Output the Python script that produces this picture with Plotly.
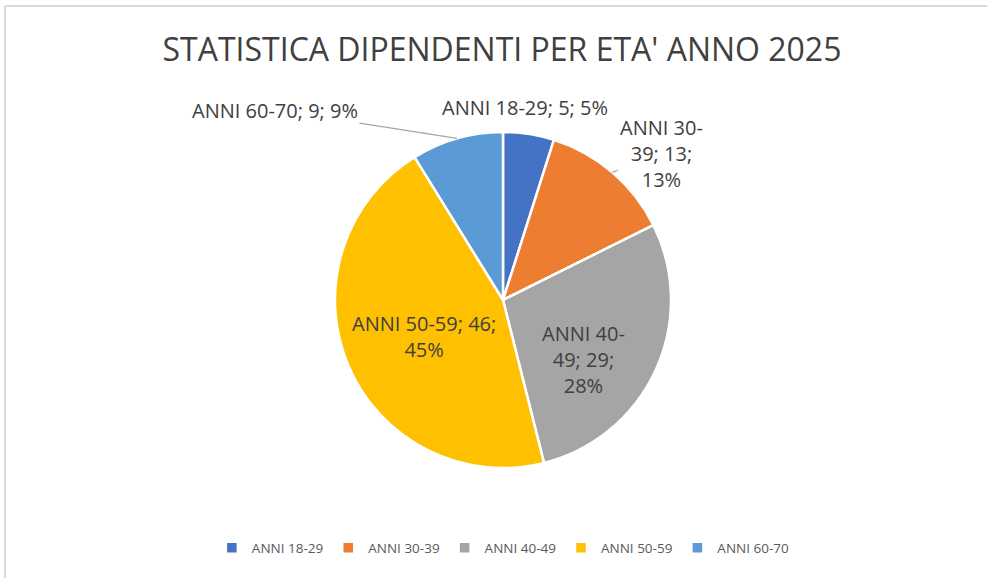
import math
import plotly.graph_objects as go

categories = ["ANNI 18-29", "ANNI 30-39", "ANNI 40-49", "ANNI 50-59", "ANNI 60-70"]
values = [5, 13, 29, 46, 9]
colors = ["#4472C4", "#ED7D31", "#A5A5A5", "#FFC000", "#5B9BD5"]

W, H = 987, 578
CX, CY, R = 503, 300, 168  # pie centre / radius in px

total = sum(values)
texts = []
for c, v in zip(categories, values):
    pct = round(v / total * 100)
    texts.append(f"{c}; {v}; {pct}%")
# wrap like the original
texts[1] = texts[1].replace("30-", "30-<br>").replace("13; ", "13;<br>")
texts[2] = texts[2].replace("40-", "40-<br>").replace("29; ", "29;<br>")
texts[3] = texts[3].replace("46; ", "46;<br>")

# label centres (px) and whether they get a leader line
label_xy = [(525, 108), (661, 154), (583, 359), (424, 336), (275, 110)]
leader = [False, True, False, False, True]

fig = go.Figure(go.Pie(
    labels=categories,
    values=values,
    textinfo="none",
    hoverinfo="label+value+percent",
    sort=False,
    direction="clockwise",
    rotation=0,
    marker=dict(colors=colors, line=dict(color="white", width=2.5)),
    domain=dict(x=[(CX - R) / W, (CX + R) / W], y=[1 - (CY + R) / H, 1 - (CY - R) / H]),
    automargin=False,
))

annotations = []
cum = 0
for i, v in enumerate(values):
    mid = (cum + v / 2) / total * 2 * math.pi
    cum += v
    lx, ly = label_xy[i]
    font = dict(family="Open Sans", size=20, color="#404040")
    if leader[i]:
        px_ = CX + R * math.sin(mid)
        py_ = CY - R * math.cos(mid)
        annotations.append(dict(
            x=px_ / W, y=1 - py_ / H, xref="paper", yref="paper",
            text=texts[i], showarrow=True, arrowhead=0, arrowwidth=1.2,
            arrowcolor="#A6A6A6", ax=lx - px_, ay=ly - py_, axref="pixel", ayref="pixel",
            font=font, align="center",
        ))
    else:
        annotations.append(dict(
            x=lx / W, y=1 - ly / H, xref="paper", yref="paper",
            text=texts[i], showarrow=False, xanchor="center", yanchor="middle",
            font=font, align="center",
        ))

fig.update_layout(
    width=W,
    height=H,
    margin=dict(l=0, r=0, t=0, b=0),
    paper_bgcolor="white",
    title=dict(
        text="STATISTICA DIPENDENTI PER ETA' ANNO 2025",
        x=502 / W, xanchor="center", y=1 - 50 / H, yanchor="middle",
        font=dict(family="Open Sans", size=32, color="#404040"),
    ),
    legend=dict(
        orientation="h", x=0.51, xanchor="center", y=1 - 548 / H, yanchor="middle",
        font=dict(family="Open Sans", size=13.5, color="#595959"),
        itemwidth=30,
    ),
    annotations=annotations,
    shapes=[
        dict(type="line", xref="paper", yref="paper", x0=5 / W, x1=1, y0=1 - 6 / H, y1=1 - 6 / H,
             line=dict(color="#D9D9D9", width=2)),
        dict(type="line", xref="paper", yref="paper", x0=5 / W, x1=5 / W, y0=0, y1=1 - 6 / H,
             line=dict(color="#D9D9D9", width=2)),
    ],
)

fig.write_html("out.html", config={"displayModeBar": False},
               post_script="document.body.style.margin='0';")
